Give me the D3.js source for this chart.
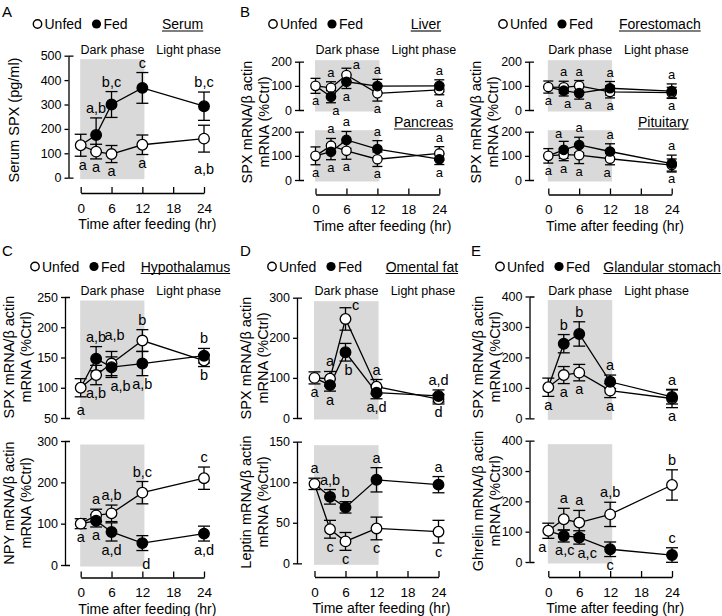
<!DOCTYPE html>
<html><head><meta charset="utf-8">
<script src="https://cdn.jsdelivr.net/npm/d3@7"></script>
<style>
body{margin:0;background:#fff}
svg{display:block}
text{font-family:"Liberation Sans",Arial,Helvetica,sans-serif;fill:#000}
</style>
</head><body>
<svg id="fig" width="722" height="616"></svg>
<script>
// ---------------- DATA ----------------
const times = [0, 3, 6, 12, 24];
const xTicks = [0, 6, 12, 18, 24];

const serumTicks = [0, 100, 200, 300, 400, 500];
const smallTicks = [0, 100, 200];
const hypoSpxTicks = [50, 100, 150, 200, 250];
const npyTicks = [0, 100, 200, 300];
const omentalTicks = [0, 100, 200, 300];
const leptinTicks = [0, 50, 100, 150];
const glandTicks = [0, 100, 200, 300, 400];

// A Serum SPX (pg/ml)
const serumUnfed = [133, 107, 97, 135, 160];
const serumUnfedErr = [45, 30, 35, 40, 55];
const serumFed = [133, 175, 300, 368, 293];
const serumFedErr = [45, 70, 53, 63, 58];
const serumLetters = [[0,'uB','a'],[3,'uB','a'],[6,'uB','a'],[12,'uB','a'],[24,'uB','a,b'],
                      [3,'fT','a,b'],[6,'fT','b,c'],[12,'fT','c'],[24,'fT','b,c']];

// B Liver
const liverUnfed = [100, 92, 145, 69, 83];
const liverUnfedErr = [31, 25, 28, 32, 20];
const liverFed = [100, 55, 117, 99, 100];
const liverFedErr = [31, 25, 28, 28, 25];
const liverLetters = [[0,'uB','a'],[3,'uT','a'],[3,'fB','a'],[6,'uT','a'],[6,'fB','a'],
                      [12,'fT','a'],[12,'uB','a'],[24,'fT','a'],[24,'uB','a']];

// B Pancreas
const pancUnfed = [100, 142, 121, 86, 110];
const pancUnfedErr = [37, 30, 35, 30, 28];
const pancFed = [100, 117, 166, 128, 86];
const pancFedErr = [37, 33, 35, 35, 22];
const pancLetters = [[0,'uB','a'],[3,'uT','a'],[3,'fB','a'],[6,'fT','a'],[6,'uB','a'],
                     [12,'fT','a'],[12,'uB','a'],[24,'uT','a'],[24,'fB','a']];

// B Forestomach
const foreUnfed = [95, 94, 100, 75, 72];
const foreUnfedErr = [25, 25, 22, 25, 22];
const foreFed = [95, 80, 70, 90, 78];
const foreFedErr = [25, 22, 25, 28, 30];
const foreLetters = [[0,'uB','a'],[3,'uT','a'],[3,'fB','a'],[6,'uT','a'],[6,'fB','a'],
                     [12,'fT','a'],[12,'uB','a'],[24,'fT','a'],[24,'uB','a']];

// B Pituitary
const pitUnfed = [100, 105, 103, 88, 62];
const pitUnfedErr = [30, 25, 35, 25, 25];
const pitFed = [100, 125, 145, 118, 68];
const pitFedErr = [30, 35, 32, 32, 35];
const pitLetters = [[0,'uB','a'],[3,'fT','a'],[3,'uB','a'],[6,'fT','a'],[6,'uB','a'],
                    [12,'fT','a'],[12,'uB','a'],[24,'fT','a'],[24,'uB','a']];

// C Hypothalamus SPX
const hypoUnfed = [100, 121, 140, 178, 145];
const hypoUnfedErr = [15, 16, 20, 18, 10];
const hypoFed = [100, 148, 134, 140, 153];
const hypoFedErr = [15, 20, 17, 20, 12];
const hypoLetters = [[0,'uB','a'],[3,'fT','a,b'],[3,'uB','a,b'],[6,'uT','a,b'],[6,'fB','a,b'],
                     [12,'uT','b'],[12,'fB','a,b'],[24,'fT','b'],[24,'uB','b']];

// C Hypothalamus NPY
const npyUnfed = [100, 120, 125, 175, 210];
const npyUnfedErr = [12, 15, 20, 27, 27];
const npyFed = [100, 107, 80, 53, 76];
const npyFedErr = [12, 15, 22, 18, 18];
const npyLetters = [[0,'uB','a'],[3,'uT','a'],[3,'fB','a'],[6,'uT','a,b'],[6,'fB','a,d'],
                    [12,'uT','b,c'],[12,'fB','d'],[24,'uT','c'],[24,'fB','a,d']];

// D Omental fat SPX
const omUnfed = [100, 98, 247, 78, 47];
const omUnfedErr = [15, 18, 28, 18, 12];
const omFed = [100, 82, 164, 63, 55];
const omFedErr = [15, 15, 22, 15, 15];
const omLetters = [[0,'uB','a'],[3,'uT','a'],[3,'fB','a'],[6,'uT','c'],[6,'fB','b'],
                   [12,'uT','a'],[12,'fB','a,d'],[24,'fT','a,d'],[24,'uB','d']];

// D Leptin
const lepUnfed = [98, 42, 27, 43, 39];
const lepUnfedErr = [7, 11, 11, 14, 14];
const lepFed = [98, 82, 69, 103, 97];
const lepFedErr = [7, 9, 7, 15, 10];
const lepLetters = [[0,'uT','a'],[3,'fT','a,b'],[3,'uB','c'],[6,'fT','b'],[6,'uB','c'],
                    [12,'fT','a'],[12,'uB','c'],[24,'fT','a'],[24,'uB','c']];

// E Glandular stomach SPX
const glUnfed = [102, 142, 150, 91, 65];
const glUnfedErr = [30, 28, 27, 23, 30];
const glFed = [102, 245, 277, 120, 70];
const glFedErr = [30, 30, 40, 22, 23];
const glLetters = [[0,'uB','a'],[3,'fT','b'],[3,'uB','a'],[6,'fT','b'],[6,'uB','a'],
                   [12,'fT','a'],[12,'uB','a'],[24,'fT','a'],[24,'uB','a']];

// E Ghrelin
const ghUnfed = [103, 141, 130, 157, 254];
const ghUnfedErr = [25, 36, 40, 40, 50];
const ghFed = [103, 86, 81, 42, 23];
const ghFedErr = [25, 20, 22, 24, 24];
const ghLetters = [[0,'uB','a'],[3,'uT','a'],[3,'fB','a,c'],[6,'uT','a'],[6,'fB','a,c'],
                   [12,'uT','a,b'],[12,'fB','c'],[24,'uT','b'],[24,'fT','c']];

// ---------------- LAYOUT ----------------
const cols = {
  A: {axisX: 68.5, x0: 80.7, x1: 204},
  B: {axisX: 299, x0: 315.5, x1: 439.3},
  F: {axisX: 529, x0: 548.3, x1: 671.7},
  C: {axisX: 65, x0: 80.7, x1: 204},
  D: {axisX: 297, x0: 314.5, x1: 438.5},
  E: {axisX: 529.5, x0: 548.3, x1: 672}
};

const charts = {
  serum: {col:'A', yTop:55.7, yBot:177.7, domain:[0,500], ticks:serumTicks, u:serumUnfed, ue:serumUnfedErr, f:serumFed, fe:serumFedErr, letters:serumLetters, small:false},
  liver: {col:'B', yTop:61.7, yBot:110, domain:[0,200], ticks:smallTicks, u:liverUnfed, ue:liverUnfedErr, f:liverFed, fe:liverFedErr, letters:liverLetters, small:true},
  panc:  {col:'B', yTop:131.7, yBot:180, domain:[0,200], ticks:smallTicks, u:pancUnfed, ue:pancUnfedErr, f:pancFed, fe:pancFedErr, letters:pancLetters, small:true},
  fore:  {col:'F', yTop:61.7, yBot:110, domain:[0,200], ticks:smallTicks, u:foreUnfed, ue:foreUnfedErr, f:foreFed, fe:foreFedErr, letters:foreLetters, small:true},
  pit:   {col:'F', yTop:131.7, yBot:180, domain:[0,200], ticks:smallTicks, u:pitUnfed, ue:pitUnfedErr, f:pitFed, fe:pitFedErr, letters:pitLetters, small:true},
  hypo:  {col:'C', yTop:297, yBot:418, domain:[50,250], ticks:hypoSpxTicks, u:hypoUnfed, ue:hypoUnfedErr, f:hypoFed, fe:hypoFedErr, letters:hypoLetters, small:false},
  npy:   {col:'C', yTop:441, yBot:565, domain:[0,300], ticks:npyTicks, u:npyUnfed, ue:npyUnfedErr, f:npyFed, fe:npyFedErr, letters:npyLetters, small:false},
  om:    {col:'D', yTop:297.7, yBot:418, domain:[0,300], ticks:omentalTicks, u:omUnfed, ue:omUnfedErr, f:omFed, fe:omFedErr, letters:omLetters, small:false},
  lep:   {col:'D', yTop:441.7, yBot:563.3, domain:[0,150], ticks:leptinTicks, u:lepUnfed, ue:lepUnfedErr, f:lepFed, fe:lepFedErr, letters:lepLetters, small:false},
  gl:    {col:'E', yTop:296.5, yBot:418.3, domain:[0,400], ticks:glandTicks, u:glUnfed, ue:glUnfedErr, f:glFed, fe:glFedErr, letters:glLetters, small:false},
  gh:    {col:'E', yTop:440.7, yBot:562, domain:[0,400], ticks:glandTicks, u:ghUnfed, ue:ghUnfedErr, f:ghFed, fe:ghFedErr, letters:ghLetters, small:false}
};

// pixel nudges for individual significance letters: chart -> index -> [dx, dy]
const letterNudge = {
  serum: {0:[2,0], 4:[0,8]},
  liver: {2:[5,0], 3:[10,6]},
  fore:  {2:[4,0], 4:[9,-2]},
  pit:   {1:[-5,2], 6:[-3,0]},
  hypo:  {0:[0,5], 3:[3,-6], 4:[9,0]},
  npy:   {6:[4,5]},
  om:    {3:[10,7], 4:[3,0]},
  gh:    {0:[-6,0], 2:[1,0], 4:[8,0]}
};

const groups = [
  {panel:'A', px:2, py:17, col:'A', legX:37.5, legY:24, title:'Serum', titleX:162, phaseY:49, xAxisY:193,
   charts:['serum'], ylabels:[{lines:['Serum SPX (pg/ml)'], xs:[14], cy:120}], subs:[]},
  {panel:'B', px:240, py:17, col:'B', legX:273, legY:24, title:'Liver', titleX:410.7, phaseY:49, xAxisY:194.5,
   charts:['liver','panc'], ylabels:[{lines:['SPX mRNA/\u03b2 actin','mRNA (%Ctrl)'], xs:[247,264], cy:122}],
   subs:[{text:'Pancreas', x:394, y:122}]},
  {panel:null, col:'F', legX:503, legY:24, title:'Forestomach', titleX:619, phaseY:49, xAxisY:194.5,
   charts:['fore','pit'], ylabels:[{lines:['SPX mRNA/\u03b2 actin','mRNA (%Ctrl)'], xs:[476,493], cy:122}],
   subs:[{text:'Pituitary', x:638, y:122}]},
  {panel:'C', px:2, py:256, col:'C', legX:35, legY:266.5, title:'Hypothalamus', titleX:140.7, phaseY:290, xAxisY:577.5,
   charts:['hypo','npy'], ylabels:[{lines:['SPX mRNA/\u03b2 actin','mRNA (%Ctrl)'], xs:[9,26], cy:357},
                                   {lines:['NPY mRNA/\u03b2 actin','mRNA (%Ctrl)'], xs:[9,26], cy:503}], subs:[]},
  {panel:'D', px:240, py:256, col:'D', legX:272, legY:266.5, title:'Omental fat', titleX:385.7, phaseY:290, xAxisY:577,
   charts:['om','lep'], ylabels:[{lines:['SPX mRNA/\u03b2 actin','mRNA (%Ctrl)'], xs:[246,263], cy:358},
                                 {lines:['Leptin mRNA/\u03b2 actin','mRNA (%Ctrl)'], xs:[246,263], cy:502}], subs:[]},
  {panel:'E', px:471, py:256, col:'E', legX:500, legY:266.5, title:'Glandular stomach', titleX:603.3, phaseY:290, xAxisY:577,
   charts:['gl','gh'], ylabels:[{lines:['SPX mRNA/\u03b2 actin','mRNA (%Ctrl)'], xs:[478,495], cy:357},
                                {lines:['Ghrelin mRNA/\u03b2 actin','mRNA (%Ctrl)'], xs:[478,495], cy:501}], subs:[]}
];

// ---------------- DRAW ----------------
const svg = d3.select('#fig');
const SW = 1.3;
const GREY = '#d9d9d9';

function drawChart(key) {
  const c = charts[key];
  const col = cols[c.col];
  const g = svg.append('g');
  const x = d3.scaleLinear().domain([0, 24]).range([col.x0, col.x1]);
  const y = d3.scaleLinear().domain(c.domain).range([c.yBot, c.yTop]);
  const gTop = c.small ? c.yTop - 1.5 : c.yTop + 3.5;
  const gBot = c.yBot + 1.5;
  g.append('rect').attr('x', x(0) - 0.5).attr('y', gTop)
    .attr('width', x(12.4) - x(0) + 0.5).attr('height', gBot - gTop).attr('fill', GREY);

  const ax = d3.axisLeft(y).tickValues(c.ticks).tickSizeInner(4).tickSizeOuter(-5)
    .tickPadding(3).tickFormat(d3.format('d'));
  const ag = g.append('g').attr('transform', `translate(${col.axisX},0)`).call(ax);
  ag.attr('font-family', null).attr('font-size', null);
  ag.selectAll('path,line').attr('stroke', '#000').attr('stroke-width', SW);
  ag.selectAll('text').style('font-size', '12.5px');

  const line = d3.line().x((d, i) => x(times[i])).y(d => y(d));
  g.append('path').datum(c.u).attr('d', line).attr('fill', 'none').attr('stroke', '#000').attr('stroke-width', SW);
  g.append('path').datum(c.f).attr('d', line).attr('fill', 'none').attr('stroke', '#000').attr('stroke-width', SW);

  const cap = c.small ? 5 : 6;
  const drawErr = (vals, errs, skip0) => {
    vals.forEach((v, i) => {
      if (skip0 && i === 0) return;
      const xx = x(times[i]), y1 = y(v - errs[i]), y2 = y(v + errs[i]);
      const eg = g.append('g').attr('stroke', '#000').attr('stroke-width', SW);
      eg.append('line').attr('x1', xx).attr('x2', xx).attr('y1', y1).attr('y2', y2);
      eg.append('line').attr('x1', xx - cap).attr('x2', xx + cap).attr('y1', y1).attr('y2', y1);
      eg.append('line').attr('x1', xx - cap).attr('x2', xx + cap).attr('y1', y2).attr('y2', y2);
    });
  };
  drawErr(c.u, c.ue, false);
  drawErr(c.f, c.fe, true);

  const r = c.small ? 4.7 : 5.3;
  g.selectAll('circle.u').data(c.u).enter().append('circle')
    .attr('cx', (d, i) => x(times[i])).attr('cy', d => y(d)).attr('r', r)
    .attr('fill', '#fff').attr('stroke', '#000').attr('stroke-width', SW);
  g.selectAll('circle.f').data(c.f.slice(1)).enter().append('circle')
    .attr('cx', (d, i) => x(times[i + 1])).attr('cy', d => y(d)).attr('r', r)
    .attr('fill', '#000').attr('stroke', '#000').attr('stroke-width', SW);

  const fs = c.small ? 13 : 14.5;
  const nud = letterNudge[key] || {};
  c.letters.forEach((L, idx) => {
    const [t, code, txt] = L;
    const i = times.indexOf(t);
    const vals = code[0] === 'u' ? c.u : c.f;
    const errs = code[0] === 'u' ? c.ue : c.fe;
    const n = nud[idx] || [0, 0];
    let yb;
    if (code[1] === 'T') yb = y(vals[i] + errs[i]) - 5;
    else yb = y(vals[i] - errs[i]) + (c.small ? 12 : 13.5);
    g.append('text').attr('x', x(t) + n[0]).attr('y', yb + n[1])
      .attr('text-anchor', 'middle').style('font-size', fs + 'px').text(txt);
  });
}

groups.forEach(G => {
  const col = cols[G.col];
  const x = d3.scaleLinear().domain([0, 24]).range([col.x0, col.x1]);
  if (G.panel) svg.append('text').attr('x', G.px).attr('y', G.py).style('font-size', '15px').text(G.panel);

  // legend
  const lg = svg.append('g');
  lg.append('circle').attr('cx', G.legX).attr('cy', G.legY).attr('r', 4.2)
    .attr('fill', '#fff').attr('stroke', '#000').attr('stroke-width', 1.4);
  lg.append('text').attr('x', G.legX + 7).attr('y', G.legY).attr('dy', '0.36em').style('font-size', '14px').text('Unfed');
  lg.append('circle').attr('cx', G.legX + 59).attr('cy', G.legY).attr('r', 4.6).attr('fill', '#000');
  lg.append('text').attr('x', G.legX + 66).attr('y', G.legY).attr('dy', '0.36em').style('font-size', '14px').text('Fed');

  const underlined = (txt, tx, ty) => {
    const t = svg.append('text').attr('x', tx).attr('y', ty).attr('dy', '0.36em').style('font-size', '14px').text(txt);
    const w = t.node().getComputedTextLength();
    svg.append('line').attr('x1', tx).attr('x2', tx + w).attr('y1', ty + 7).attr('y2', ty + 7)
      .attr('stroke', '#000').attr('stroke-width', 1.1);
  };
  underlined(G.title, G.titleX, G.legY);
  G.subs.forEach(s => underlined(s.text, s.x, s.y));

  // phase labels
  svg.append('text').attr('x', x(6.2)).attr('y', G.phaseY).attr('dy', '0.36em').attr('text-anchor', 'middle')
    .style('font-size', '12.5px').text('Dark phase');
  svg.append('text').attr('x', x(21)).attr('y', G.phaseY).attr('dy', '0.36em').attr('text-anchor', 'middle')
    .style('font-size', '12.5px').text('Light phase');

  G.charts.forEach(drawChart);

  // x axis
  const xa = d3.axisBottom(x).tickValues(xTicks).tickSizeInner(-6).tickSizeOuter(0).tickPadding(10);
  const xg = svg.append('g').attr('transform', `translate(0,${G.xAxisY})`).call(xa);
  xg.attr('font-family', null).attr('font-size', null);
  xg.selectAll('path,line').attr('stroke', '#000').attr('stroke-width', SW);
  xg.selectAll('text').style('font-size', '13.5px');
  svg.append('text').attr('x', (col.x0 + col.x1) / 2 + 5).attr('y', G.xAxisY + 31).attr('dy', '0.36em')
    .attr('text-anchor', 'middle').style('font-size', '14px').text('Time after feeding (hr)');

  // y labels
  G.ylabels.forEach(yl => {
    yl.lines.forEach((ln, k) => {
      svg.append('text').attr('transform', `translate(${yl.xs[k]},${yl.cy}) rotate(-90)`)
        .attr('text-anchor', 'middle').attr('dy', '0.36em').style('font-size', '14.5px').text(ln);
    });
  });
});
</script>
</body></html>
